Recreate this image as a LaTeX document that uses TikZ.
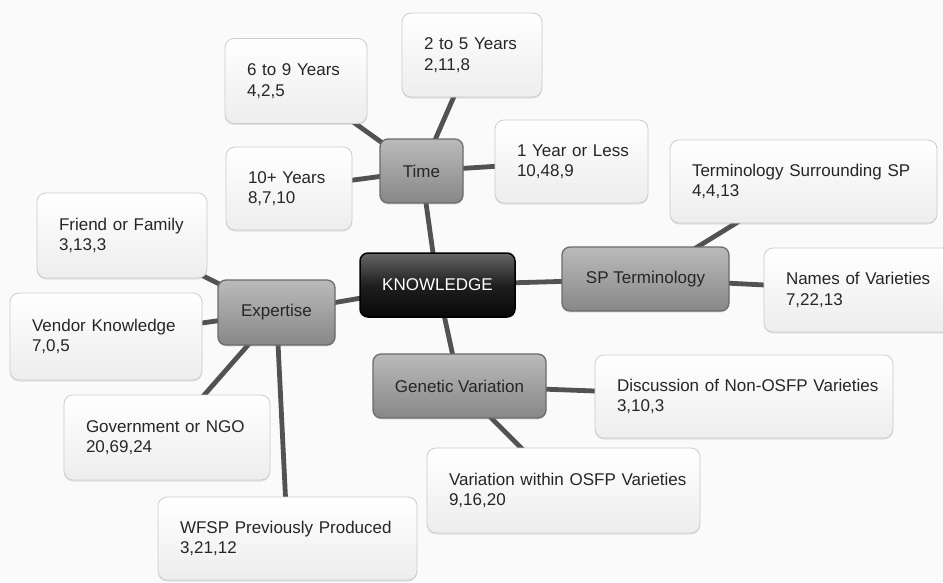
\documentclass[tikz,border=0pt]{standalone}
\usepackage{fontspec}
\setmainfont{Liberation Sans}
\usetikzlibrary{backgrounds,shadows}
\newcommand{\twoline}[2]{\mbox{#1}\\\mbox{#2}}
\begin{document}
\begin{tikzpicture}[x=1pt,y=-1pt,
  every node/.style={font=\fontsize{17}{20.5}\selectfont, text=black!85},
  wbox/.style={rectangle, rounded corners=9pt, draw=black!20, line width=0.8pt,
    top color=white, bottom color=black!7, inner xsep=22pt, inner ysep=0pt, align=left,
    drop shadow={opacity=0.2, shadow xshift=0pt, shadow yshift=-1.5pt}},
  gbox/.style={rectangle, rounded corners=8pt, draw=black!58, line width=1.3pt,
    top color=black!27, bottom color=black!47, inner sep=0pt, align=center,
    drop shadow={opacity=0.2, shadow xshift=0pt, shadow yshift=-1.5pt}},
  kbox/.style={rectangle, rounded corners=8pt, draw=black, line width=1.5pt,
    top color=black!60, bottom color=black!97, middle color=black!88, inner sep=0pt,
    align=center, text=white},
  link/.style={draw=black!68, line width=4.8pt}
]
\path[use as bounding box] (0,0) rectangle (943,582);
\clip (0,0) rectangle (943,582);

% central and category nodes
\node[kbox, minimum width=155pt, minimum height=64pt] (know) at (437.5,285) {KNOWLEDGE};
\node[gbox, minimum width=83pt, minimum height=64pt] (time) at (421.5,171) {Time};
\node[gbox, minimum width=117pt, minimum height=65pt] (exp) at (276.5,312.5) {Expertise};
\node[gbox, minimum width=167pt, minimum height=64pt] (sp) at (645.5,279) {SP Terminology};
\node[gbox, minimum width=173pt, minimum height=64pt] (gen) at (459.5,386) {Genetic Variation};

% leaf nodes
\node[wbox, text width=98pt, minimum height=85pt] (t69) at (296,81) {\twoline{6 to 9 Years}{4,2,5}};
\node[wbox, text width=96pt, minimum height=84pt] (t25) at (472,55) {\twoline{2 to 5 Years}{2,11,8}};
\node[wbox, text width=82pt, minimum height=83pt] (t10) at (289,188.5) {\twoline{10+ Years}{8,7,10}};
\node[wbox, text width=109pt, minimum height=83pt] (t1) at (571.5,161.5) {\twoline{1 Year or Less}{10,48,9}};
\node[wbox, text width=126pt, minimum height=85pt] (ff) at (122,235.5) {\twoline{Friend or Family}{3,13,3}};
\node[wbox, text width=148pt, minimum height=87pt] (vk) at (106,336.5) {\twoline{Vendor Knowledge}{7,0,5}};
\node[wbox, text width=162pt, minimum height=85pt] (gov) at (167,437.5) {\twoline{Government or NGO}{20,69,24}};
\node[wbox, text width=215pt, minimum height=83pt] (wfsp) at (287.5,538.5) {\twoline{WFSP Previously Produced}{3,21,12}};
\node[wbox, text width=223pt, minimum height=83pt] (tss) at (803.5,181.5) {\twoline{Terminology Surrounding SP}{4,4,13}};
\node[wbox, text width=156pt, minimum height=84pt] (nv) at (864,290) {\twoline{Names of Varieties}{7,22,13}};
\node[wbox, text width=254pt, minimum height=83pt] (disc) at (744,396.5) {\twoline{Discussion of Non-OSFP Varieties}{3,10,3}};
\node[wbox, text width=229pt, minimum height=85pt] (var) at (563.5,490.5) {\twoline{Variation within OSFP Varieties}{9,16,20}};

\begin{pgfonlayer}{background}
\fill[white!98!black] (0,0) rectangle (943,582);
\draw[link] (know.center) -- (time.center);
\draw[link] (know.center) -- (exp.center);
\draw[link] (know.center) -- (sp.center);
\draw[link] (know.center) -- (gen.center);
\draw[link] (time.center) -- (t69.center);
\draw[link] (time.center) -- (t25.center);
\draw[link] (time.center) -- (t10.center);
\draw[link] (time.center) -- (t1.center);
\draw[link] (exp.center) -- (ff.center);
\draw[link] (exp.center) -- (vk.center);
\draw[link] (exp.center) -- (gov.center);
\draw[link] (exp.center) -- (wfsp.center);
\draw[link] (sp.center) -- (tss.center);
\draw[link] (sp.center) -- (nv.center);
\draw[link] (gen.center) -- (disc.center);
\draw[link] (gen.center) -- (var.center);
\end{pgfonlayer}
\end{tikzpicture}
\end{document}
